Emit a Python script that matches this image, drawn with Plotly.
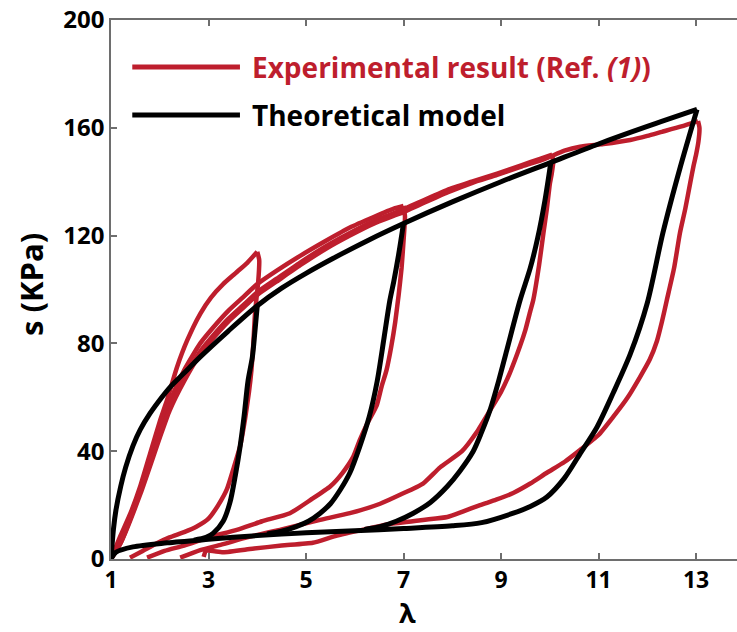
import plotly.graph_objects as go

RED = "#BE1E2D"
BLACK = "#000000"
AXIS_GREY = "#6E6E6E"
FONT = "Open Sans"

# ---------------- Experimental result (Ref. (1)) ----------------
# loading branches (each from lambda = 1)
exp_load4_x = [1, 1.18, 1.4, 1.6, 1.8, 2.0, 2.15, 2.35, 2.56, 2.83, 3.05, 3.3, 3.55, 3.8, 4.0]
exp_load4_y = [0, 8, 17, 27, 39, 51, 59, 71, 81, 91, 97, 102, 106, 110, 114]
exp_load7_x = [1, 1.2, 1.6, 2.0, 2.2, 2.5, 2.83, 3.1, 3.4, 3.7, 4.0, 4.4, 4.88, 5.4, 5.9, 6.4, 6.8, 7.0]
exp_load7_y = [0, 7, 26, 48, 58, 70, 80, 86, 92, 97, 102, 107, 112.5, 118, 123, 127, 130, 131]
exp_load10_x = [1, 1.2, 1.6, 2.0, 2.2, 2.5, 2.83, 3.1, 3.4, 3.7, 4.0, 4.4, 4.88, 5.4, 5.9, 6.4, 6.9,
                7.4, 7.9, 8.4, 8.92, 9.4, 9.8, 10.05]
exp_load10_y = [0, 6, 25, 46, 56, 67, 77, 83, 89, 94, 99, 104, 110, 116, 121, 125.5, 129,
                133, 137, 140, 143, 146, 148.5, 150]
exp_load13_x = [1, 1.2, 1.6, 2.0, 2.2, 2.5, 2.83, 3.1, 3.4, 3.7, 4.0, 4.4, 4.88, 5.4, 5.9, 6.4, 6.9,
                7.4, 7.9, 8.4, 8.92, 9.4, 9.9, 10.3, 10.62, 11.1, 11.65, 12.0, 12.3, 12.7, 13.04]
exp_load13_y = [0, 6, 24, 45, 55, 66, 76, 82, 88, 93, 98, 103, 109, 115, 120, 124.5, 128,
                132, 136, 139.5, 142.5, 145.5, 148.5, 151.5, 153, 154, 155.5, 157, 158.5, 160.5, 162.5]
# unloading branches
exp_unl4_x = [4.0, 4.04, 4.02, 3.98, 3.95, 3.92, 3.88, 3.83, 3.75, 3.65, 3.52, 3.38, 3.2, 3.0,
              2.75, 2.5, 2.2, 1.9, 1.65, 1.39]
exp_unl4_y = [114, 111, 103, 96, 90, 80, 70, 62, 52, 42, 34, 26, 20, 15, 12, 10, 8, 5.5, 3, 0.5]
exp_unl7_x = [7.0, 7.03, 7.0, 6.96, 6.9, 6.83, 6.75, 6.65, 6.55, 6.45, 6.25, 6.1, 5.97, 5.75, 5.5,
              5.1, 4.67, 4.1, 3.58, 3.0, 2.5, 2.1, 1.74]
exp_unl7_y = [131, 127, 118, 108, 98, 88, 79, 70, 64, 57, 50, 44, 38, 32, 27, 22, 17, 14, 10.8,
              8, 5, 3, 0.5]
exp_unl10_x = [10.05, 10.07, 10.04, 10.0, 9.94, 9.87, 9.78, 9.66, 9.6, 9.5, 9.39, 9.18, 9.0, 8.77,
               8.5, 8.2, 7.75, 7.4, 6.95, 6.52, 5.9, 5.29, 4.5, 3.79, 3.3, 2.83, 2.42]
exp_unl10_y = [150, 147, 143, 139, 130, 121, 109, 96, 92, 85, 79, 69, 62, 55, 47, 40, 34, 28, 24,
               20.5, 17, 14.5, 11, 8, 5.5, 3.3, 0.5]
exp_unl13_x = [13.04, 13.07, 13.05, 13.0, 12.95, 12.88, 12.78, 12.67, 12.55, 12.4, 12.3, 12.2, 12.05,
               11.85, 11.6, 11.3, 11.0, 10.62, 10.3, 9.94, 9.6, 9.25, 8.9, 8.57, 8.2, 7.9, 7.4, 6.72,
               6.2, 5.6, 5.14, 4.5, 3.9, 3.3, 2.95, 2.9]
exp_unl13_y = [162.5, 160, 155, 150, 146, 139.5, 130, 121, 108, 96, 88, 81, 74, 67.5, 60, 52.7, 46,
               40.4, 36, 32, 28, 24.5, 22, 20, 17.5, 15.6, 14.5, 13, 11, 8.5, 6, 5, 3.8, 2.5, 3, 0.8]

# ---------------- Theoretical model ----------------
th_load_x = [1, 1.05, 1.1, 1.2, 1.3, 1.45, 1.6, 1.8, 2.0, 2.2, 2.5, 2.83, 3.4, 4.0,
             4.5, 5.0, 5.55, 6.3, 7.0, 8.0, 9.0, 10.0, 11.0, 12.0, 13.02]
th_load_y = [0, 11, 18, 27, 34, 42, 48, 54, 59, 63.5, 69, 75, 84.5, 94,
             100.5, 106, 111.5, 118.5, 124.5, 132.5, 140, 147, 154, 160.5, 166.8]
th_unl4_x = [4.0, 3.95, 3.9, 3.81, 3.73, 3.65, 3.55, 3.44, 3.3, 3.1, 2.95, 2.7]
th_unl4_y = [94, 84, 75, 66, 53, 42, 31, 21, 14, 9.6, 8, 7]
th_unl7_x = [7.0, 6.9, 6.8, 6.72, 6.6, 6.46, 6.3, 6.1, 5.9, 5.7, 5.5, 5.29, 5.05, 4.8, 4.5, 4.2]
th_unl7_y = [124.5, 113, 103, 96, 82, 66, 53, 41.6, 32, 25.6, 20.5, 17, 14, 12, 10.3, 9.3]
th_unl10_x = [10.02, 9.9, 9.75, 9.6, 9.39, 9.12, 8.95, 8.77, 8.6, 8.43, 8.15, 7.9, 7.55, 7.2,
              6.85, 6.52, 6.2]
th_unl10_y = [147, 133, 119, 108, 96, 77.6, 66, 55, 47, 40, 32.5, 27, 21, 17, 14, 12, 11]
th_unl13_x = [13.02, 12.67, 12.32, 12.0, 11.65, 11.3, 10.97, 10.62, 10.3, 9.94, 9.6, 9.25, 8.6,
              8.0, 7.0, 6.0, 5.0, 4.0, 3.0, 2.15, 1.45, 1.1, 1.0]
th_unl13_y = [166.8, 145, 121, 95, 76, 61.6, 49, 39, 30, 23, 19.5, 17, 13.5,
              12.3, 11.3, 10.5, 9.7, 8.7, 7.3, 6, 4.5, 2.5, 0]

x_ticks = [1, 3, 5, 7, 9, 11, 13]
y_ticks = [0, 40, 80, 120, 160, 200]

legend_labels = ["Experimental result (Ref. <i>(1)</i>)", "Theoretical model"]

fig = go.Figure()

exp_sets = [(exp_load4_x, exp_load4_y), (exp_load7_x, exp_load7_y), (exp_load10_x, exp_load10_y),
            (exp_load13_x, exp_load13_y), (exp_unl4_x, exp_unl4_y), (exp_unl7_x, exp_unl7_y),
            (exp_unl10_x, exp_unl10_y), (exp_unl13_x, exp_unl13_y)]
for xs, ys in exp_sets:
    fig.add_trace(go.Scatter(x=xs, y=ys, mode="lines", showlegend=False, hoverinfo="skip",
                             line=dict(color=RED, width=4.5, shape="spline", smoothing=0.5)))

th_sets = [(th_load_x, th_load_y), (th_unl4_x, th_unl4_y), (th_unl7_x, th_unl7_y),
           (th_unl10_x, th_unl10_y), (th_unl13_x, th_unl13_y)]
for xs, ys in th_sets:
    fig.add_trace(go.Scatter(x=xs, y=ys, mode="lines", showlegend=False, hoverinfo="skip",
                             line=dict(color=BLACK, width=5, shape="spline", smoothing=0.8)))

# manual legend (long line samples)
for i, (col, lab) in enumerate(zip([RED, BLACK], legend_labels)):
    yp = 0.9128 - i * 0.0891
    fig.add_shape(type="line", xref="paper", yref="paper", x0=0.034, x1=0.206, y0=yp, y1=yp,
                  line=dict(color=col, width=5), layer="above")
    fig.add_annotation(xref="paper", yref="paper", x=0.222, y=yp, xanchor="left", yanchor="middle",
                       text=lab, showarrow=False,
                       font=dict(family=FONT, size=28, color=col, weight="bold"))

# axis titles
fig.add_annotation(xref="paper", yref="paper", x=-0.128, y=0.51, text="s (KPa)", textangle=-90,
                   showarrow=False, xanchor="center", yanchor="middle",
                   font=dict(family=FONT, size=31, color="black", weight="bold"))
fig.add_annotation(xref="paper", yref="paper", x=0.473, y=-0.0995, text="λ",
                   showarrow=False, xanchor="center", yanchor="middle", borderpad=0,
                   font=dict(family=FONT, size=27, color="black", weight="bold"))

fig.update_layout(
    width=737, height=632,
    margin=dict(l=111, r=0, t=20, b=73),
    plot_bgcolor="white", paper_bgcolor="white",
    showlegend=False,
)
fig.update_xaxes(range=[1, 13.84], tickvals=x_ticks, ticktext=[str(v) for v in x_ticks],
                 showgrid=False, zeroline=False, showline=True, linecolor=AXIS_GREY, linewidth=1.5,
                 ticks="inside", ticklen=6, tickcolor=AXIS_GREY, tickwidth=1.5, mirror="ticks",
                 tickfont=dict(family=FONT, size=23, color="black", weight="bold"))
fig.update_yaxes(range=[0, 200], tickvals=y_ticks, ticktext=[str(v) for v in y_ticks],
                 showgrid=False, zeroline=False, showline=True, linecolor=AXIS_GREY, linewidth=1.5,
                 ticks="inside", ticklen=6, tickcolor=AXIS_GREY, tickwidth=1.5,
                 tickfont=dict(family=FONT, size=24, color="black", weight="bold"))

fig.write_html("out.html")
